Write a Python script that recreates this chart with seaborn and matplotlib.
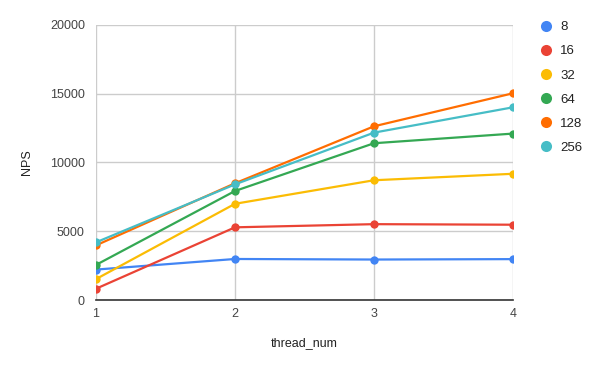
import matplotlib
matplotlib.use("Agg")
import matplotlib.pyplot as plt
from matplotlib.lines import Line2D
import seaborn as sns
import pandas as pd

threads = [1, 2, 3, 4]
series_names = ["8", "16", "32", "64", "128", "256"]
nps_8 = [2220, 2990, 2950, 2980]
nps_16 = [830, 5290, 5520, 5480]
nps_32 = [1530, 7000, 8710, 9180]
nps_64 = [2560, 7930, 11400, 12100]
nps_128 = [3980, 8490, 12630, 15030]
nps_256 = [4200, 8410, 12170, 14010]
colors = ["#4285F4", "#EA4335", "#FBBC04", "#34A853", "#FF6D01", "#46BDC6"]

all_vals = [nps_8, nps_16, nps_32, nps_64, nps_128, nps_256]
rows = []
for name, vals in zip(series_names, all_vals):
    for t, v in zip(threads, vals):
        rows.append({"thread_num": t, "NPS": v, "series": name})
df = pd.DataFrame(rows)

sns.set_theme(style="white")
plt.rcParams["font.family"] = ["Liberation Sans", "DejaVu Sans"]

fig = plt.figure(figsize=(6, 3.71), dpi=100)
ax = fig.add_axes([0.16, 0.191, 0.695, 0.742])

sns.lineplot(data=df, x="thread_num", y="NPS", hue="series", hue_order=series_names,
             palette=colors, marker="o", markersize=6, markeredgewidth=0,
             linewidth=1.6, ax=ax, legend=False, zorder=3)

ax.set_xlim(1, 4)
ax.set_ylim(0, 20000)
ax.set_xticks(threads)
ax.set_xticklabels([str(t) for t in threads])
ax.set_yticks([0, 5000, 10000, 15000, 20000])
ax.grid(True, color="#cccccc", linewidth=1)
for s in ["top", "right", "left"]:
    ax.spines[s].set_visible(False)
ax.spines["bottom"].set_color("#333333")
ax.spines["bottom"].set_linewidth(1.2)
ax.spines["bottom"].set_zorder(4)
ax.tick_params(axis="both", length=0, labelsize=9, colors="#444444", pad=8)
ax.tick_params(axis="x", pad=6)
ax.set_xlabel("thread_num", fontsize=9, color="#222222")
ax.set_ylabel("NPS", fontsize=9, color="#222222")
ax.yaxis.set_label_coords(-0.165, 0.5)
ax.xaxis.set_label_coords(0.5, -0.156)
ax.xaxis.label.set_va("center")
ax.yaxis.label.set_va("center")
for lbl in ax.get_xticklabels() + ax.get_yticklabels():
    lbl.set_clip_on(False)

handles = [Line2D([0], [0], marker="o", linestyle="", markersize=8,
                  markerfacecolor=c, markeredgewidth=0) for c in colors]
fig.legend(handles, series_names, loc="upper left", bbox_to_anchor=(0.88, 0.975),
           frameon=False, fontsize=9.5, labelspacing=0.9, handletextpad=0.55,
           handlelength=1.0, labelcolor="#222222")

fig.savefig("out.png", dpi=100)
